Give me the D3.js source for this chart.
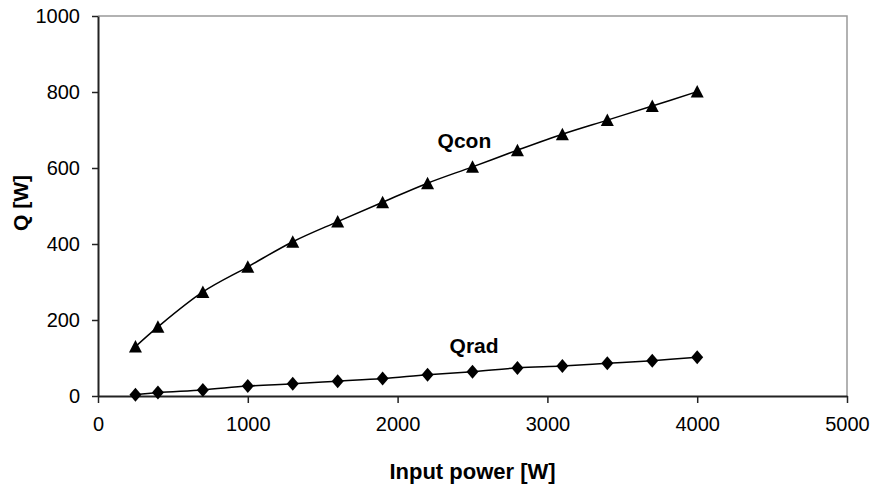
<!DOCTYPE html>
<html>
<head>
<meta charset="utf-8">
<script src="https://cdn.jsdelivr.net/npm/d3@7"></script>
<style>
  body { margin: 0; background: #fff; }
  text { font-family: Arial, "Liberation Sans", sans-serif; fill: #000; }
</style>
</head>
<body>
<script>
// input power [W]
let inputPower = [250, 400, 700, 1000, 1300, 1600, 1900, 2200, 2500, 2800, 3100, 3400, 3700, 4000];
// convective and radiative heat [W]
let qcon = [130, 182, 274, 340, 406, 459, 510, 560, 603, 647, 689, 726, 763, 801];
let qrad = [3, 9, 16, 26, 32, 39, 46, 56, 64, 74, 79, 86, 93, 102];
let xTicks = [0, 1000, 2000, 3000, 4000, 5000];
let yTicks = [0, 200, 400, 600, 800, 1000];
let seriesLabels = [
    {name: "Qcon", x: 2267, y: 653},
    {name: "Qrad", x: 2347, y: 113}
];

let width = 874;
let height = 488;
let margin = {top: 16, right: 27, bottom: 92, left: 98};

let svg = d3.select("body").append("svg")
    .attr("width", width)
    .attr("height", height);

let x = d3.scaleLinear()
    .domain([0, 5000])
    .range([margin.left, width - margin.right]);

let y = d3.scaleLinear()
    .domain([0, 1000])
    .range([height - margin.bottom, margin.top]);

// gray frame on top and right
svg.append("path")
    .attr("d", `M${x(0)},${y(1000)}H${x(5000)}V${y(0)}`)
    .attr("fill", "none")
    .attr("stroke", "#999")
    .attr("stroke-width", 1.5);

let xAxis = svg.append("g")
    .attr("transform", `translate(0,${y(0)})`)
    .call(d3.axisBottom(x).tickValues(xTicks).tickFormat(d3.format("d"))
        .tickSize(7).tickPadding(14).tickSizeOuter(0));

let yAxis = svg.append("g")
    .attr("transform", `translate(${x(0)},0)`)
    .call(d3.axisLeft(y).tickValues(yTicks).tickFormat(d3.format("d"))
        .tickSize(6).tickPadding(12).tickSizeOuter(0));

[xAxis, yAxis].forEach(a => {
    a.select(".domain").attr("stroke", "#222").attr("stroke-width", 2);
    a.selectAll(".tick line").attr("stroke", "#222").attr("stroke-width", 1.5);
    a.selectAll(".tick text")
        .attr("font-family", "Arial, 'Liberation Sans', sans-serif")
        .attr("font-size", 20)
        .attr("fill", "#111");
});

let line = d3.line()
    .x((d, i) => x(inputPower[i]))
    .y(d => y(d))
    .curve(d3.curveCatmullRom);

svg.append("path")
    .attr("d", line(qcon))
    .attr("fill", "none")
    .attr("stroke", "#000")
    .attr("stroke-width", 1.5);

svg.append("path")
    .attr("d", line(qrad))
    .attr("fill", "none")
    .attr("stroke", "#000")
    .attr("stroke-width", 1.5);

// triangle markers
svg.selectAll(".tri")
    .data(qcon)
    .join("path")
    .attr("class", "tri")
    .attr("transform", (d, i) => `translate(${x(inputPower[i])},${y(d)})`)
    .attr("d", "M0,-6.5L6.5,6L-6.5,6Z")
    .attr("fill", "#000");

// diamond markers
svg.selectAll(".dia")
    .data(qrad)
    .join("path")
    .attr("class", "dia")
    .attr("transform", (d, i) => `translate(${x(inputPower[i])},${y(d)})`)
    .attr("d", "M0,-7L6,0L0,7L-6,0Z")
    .attr("fill", "#000");

svg.selectAll(".serieslabel")
    .data(seriesLabels)
    .join("text")
    .attr("class", "serieslabel")
    .attr("x", d => x(d.x))
    .attr("y", d => y(d.y))
    .attr("font-size", 21)
    .attr("font-weight", "bold")
    .text(d => d.name);

svg.append("text")
    .attr("x", (x(0) + x(5000)) / 2)
    .attr("y", 479)
    .attr("text-anchor", "middle")
    .attr("font-size", 22)
    .attr("font-weight", "bold")
    .text("Input power [W]");

svg.append("text")
    .attr("transform", `translate(28,203) rotate(-90)`)
    .attr("text-anchor", "middle")
    .attr("font-size", 21)
    .attr("font-weight", "bold")
    .text("Q [W]");
</script>
</body>
</html>
